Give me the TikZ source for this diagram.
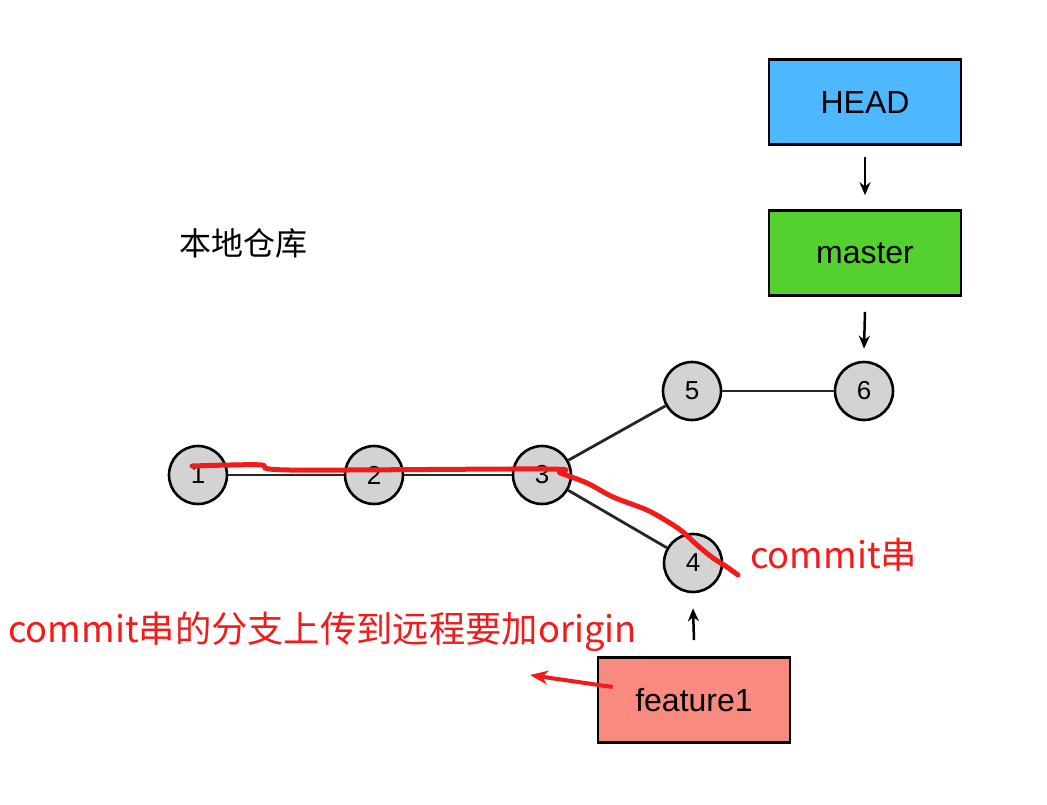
\documentclass[tikz,border=0pt]{standalone}
\usepackage{fontspec}
\setmainfont{Liberation Sans}
\newfontfamily\cjk{Noto Sans CJK SC}
\usetikzlibrary{arrows.meta}
\definecolor{headblue}{HTML}{4DB8FF}
\definecolor{mastergreen}{HTML}{55D12F}
\definecolor{featred}{HTML}{F88A80}
\definecolor{nodegray}{HTML}{D3D3D3}
\definecolor{penred}{HTML}{F21B1B}
\begin{document}
\begin{tikzpicture}[x=1pt,y=-1pt,
  commit/.style={circle,draw=black,line width=2.6pt,fill=nodegray,minimum size=58pt,inner sep=0pt,font=\fontsize{26}{28}\selectfont},
  refbox/.style={draw=black,line width=2.6pt,minimum width=192pt,minimum height=85pt,inner sep=0pt,font=\fontsize{32}{35}\selectfont},
  edge/.style={line width=2.8pt,draw=black!85},
  ptr/.style={line width=2.5pt,-{Stealth[length=13pt,width=11pt]}},
  redtext/.style={text=penred,font=\cjk\fontsize{36.3}{39}\selectfont,inner sep=0pt}]
\useasboundingbox (0,0) rectangle (1047,804);
\node[refbox,fill=headblue] (head) at (865,102) {HEAD};
\node[refbox,fill=mastergreen] (master) at (865,253) {master};
\node[refbox,fill=featred] (feat) at (694,700) {feature1};
\node[font=\cjk\fontsize{32}{34}\selectfont,inner sep=0pt] (local) at (243,243) {本地仓库};
\node[commit] (c1) at (198,475) {1};
\node[commit] (c2) at (374,475) {2};
\node[commit] (c3) at (542,475) {3};
\node[commit] (c5) at (692,391) {5};
\node[commit] (c6) at (864,391) {6};
\node[commit] (c4) at (693,563) {4};
\draw[edge] (c1) -- (c2);
\draw[edge] (c2) -- (c3);
\draw[edge] (c3) -- (c5);
\draw[edge] (c3) -- (c4);
\draw[edge] (c5) -- (c6);
\draw[ptr] ([yshift=-11pt]head.south) -- ([yshift=14pt]master.north);
\draw[ptr] ([yshift=-15pt]master.south) -- ([yshift=12pt]c6.north);
\draw[ptr] ([yshift=16pt]feat.north) -- ([yshift=-15pt]c4.south);
\node[redtext,anchor=west] (lbl1) at (750,555) {commit串};
\node[redtext,anchor=west] (lbl2) at (8,632) {commit串的分支上传到远程要加origin};
\coordinate (arrend) at (530,675);
\draw[penred,line width=4pt,-{Stealth[length=18pt,width=14pt]}] ([xshift=16pt,yshift=13pt]feat.west) -- (arrend);
\draw[penred,line width=5pt,line cap=round,line join=round] plot[smooth,tension=0.5] coordinates {(192,466) (230,465) (262,465) (290,470) (547,469) (560,473) (587,483) (613,497) (647,510) (670,523) (683,532) (697,545) (713,558) (727,567) (738,575)};
\end{tikzpicture}
\end{document}
